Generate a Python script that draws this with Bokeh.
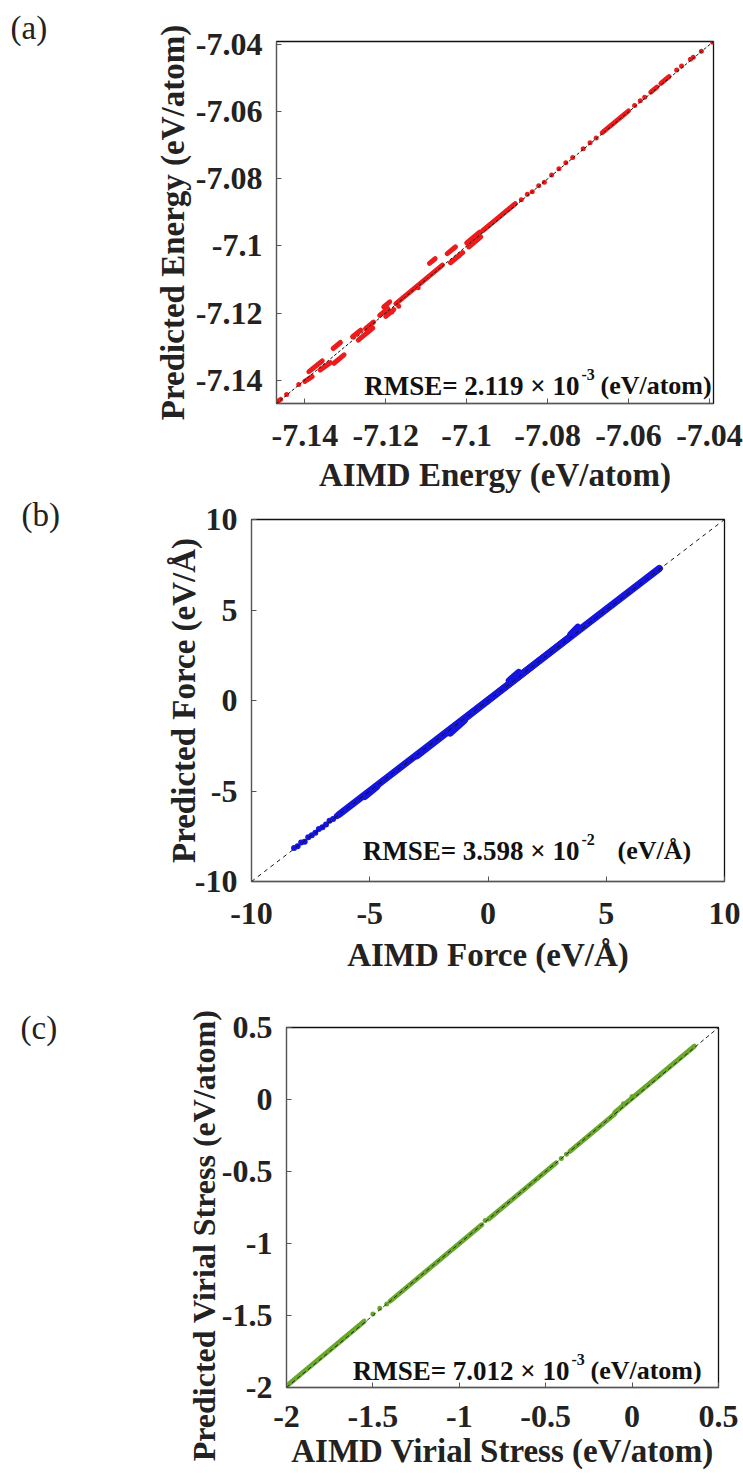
from bokeh.plotting import figure
from bokeh.models import FixedTicker, Label, Range1d
from bokeh.layouts import column, row
from bokeh.embed import file_html
from bokeh.resources import INLINE

# ---------------- Panel (a): energy ----------------
energy_range = [-7.147, -7.039]
energy_ticks = [-7.14, -7.12, -7.10, -7.08, -7.06, -7.04]
energy_tick_labels = ["-7.14", "-7.12", "-7.1", "-7.08", "-7.06", "-7.04"]
# dense runs of points (AIMD start/end, predicted start/end)
energy_run_aimd_start = [-7.1472, -7.1400, -7.1390, -7.1362, -7.1330, -7.1328, -7.1282, -7.1268,
                         -7.1250, -7.1205, -7.1215, -7.1200, -7.1175, -7.1092, -7.1048, -7.1040,
                         -7.1000, -7.0995, -7.0960, -7.0665, -7.0545, -7.0520]
energy_run_aimd_end = [-7.1460, -7.1382, -7.1357, -7.1337, -7.1312, -7.1303, -7.1262, -7.1232,
                       -7.1230, -7.1190, -7.1195, -7.1180, -7.1060, -7.1078, -7.1028, -7.1010,
                       -7.0968, -7.0965, -7.0880, -7.0600, -7.0530, -7.0500]
energy_run_pred_start = [-7.1468, -7.1404, -7.1375, -7.1370, -7.1306, -7.1350, -7.1271, -7.1281,
                         -7.1247, -7.1182, -7.1207, -7.1210, -7.1172, -7.1052, -7.1023, -7.1050,
                         -7.0991, -7.1003, -7.0954, -7.0662, -7.0541, -7.0515]
energy_run_pred_end = [-7.1458, -7.1390, -7.1343, -7.1348, -7.1288, -7.1325, -7.1251, -7.1245,
                       -7.1227, -7.1167, -7.1187, -7.1190, -7.1057, -7.1038, -7.1003, -7.1020,
                       -7.0959, -7.0973, -7.0874, -7.0597, -7.0526, -7.0495]
energy_dot_aimd = [-7.0865, -7.0850, -7.0838, -7.0822, -7.0808, -7.0790, -7.0772, -7.0755, -7.0738,
                   -7.0712, -7.0695, -7.0680, -7.0585, -7.0571, -7.0560, -7.0481, -7.0469, -7.0447,
                   -7.0440, -7.0420, -7.0392, -7.1445, -7.1415, -7.1185, -7.1168, -7.1120, -7.1020]
energy_dot_pred = [-7.0862, -7.0846, -7.0838, -7.0820, -7.0810, -7.0788, -7.0770, -7.0752, -7.0736,
                   -7.0710, -7.0692, -7.0678, -7.0581, -7.0567, -7.0556, -7.0475, -7.0463, -7.0443,
                   -7.0437, -7.0419, -7.0392, -7.1443, -7.1413, -7.1197, -7.1180, -7.1125, -7.1030]

# ---------------- Panel (b): force ----------------
force_range = [-10, 10]
force_ticks = [-10, -5, 0, 5, 10]
force_tick_labels = ["-10", "-5", "0", "5", "10"]
force_run_aimd_start = [-6.3, -1.6, 0.9, 3.5, -5.2, -3.0]
force_run_aimd_end = [7.25, -1.0, 1.3, 3.8, -4.7, 3.4]
force_run_pred_start = [-6.3, -1.8, 1.1, 3.65, -5.3, -3.05]
force_run_pred_end = [7.3, -1.1, 1.55, 4.05, -4.75, 3.45]
force_dot_aimd = [-8.2, -8.05, -7.9, -7.75, -7.6, -7.45, -7.3, -7.15, -7.0, -6.85, -6.7, -6.55, -6.4]
force_dot_pred = [-8.15, -8.05, -7.85, -7.8, -7.55, -7.45, -7.3, -7.1, -7.0, -6.85, -6.65, -6.55, -6.4]

# ---------------- Panel (c): virial stress ----------------
stress_range = [-2.0, 0.5]
stress_ticks = [-2.0, -1.5, -1.0, -0.5, 0.0, 0.5]
stress_tick_labels = ["-2", "-1.5", "-1", "-0.5", "0", "0.5"]
stress_run_aimd_start = [-1.99, -1.68, -1.40, -1.20, -0.83, -0.36, -0.10]
stress_run_aimd_end = [-1.68, -1.55, -1.20, -0.87, -0.44, -0.10, 0.36]
stress_run_pred_start = [-1.98, -1.67, -1.40, -1.20, -0.83, -0.36, -0.09]
stress_run_pred_end = [-1.67, -1.54, -1.20, -0.87, -0.44, -0.10, 0.37]
stress_dot_aimd = [-1.50, -1.46, -1.42, -0.85, -0.41, -0.38, -0.05, 0.0]
stress_dot_pred = [-1.49, -1.45, -1.42, -0.84, -0.41, -0.38, -0.03, 0.02]

panel_letters = ["(a)", "(b)", "(c)"]

FONT = "Liberation Serif"
INK = "#222222"
LETTER_W = 70
OVERLAP_C = 50


def make_panel(rng, ticks, tick_labels, xlabel, ylabel, fw, fh, left, right, top, bottom,
               xl_standoff, yl_standoff, xlab_standoff, ylab_standoff, ylab_size="33px"):
    p = figure(frame_width=fw, frame_height=fh,
               min_border_left=left, min_border_right=right,
               min_border_top=top, min_border_bottom=bottom,
               x_range=Range1d(rng[0], rng[1]), y_range=Range1d(rng[0], rng[1]),
               output_backend="svg", toolbar_location=None,
               background_fill_color="white", border_fill_color="white")
    p.xgrid.visible = False
    p.ygrid.visible = False
    p.outline_line_color = "#111111"
    p.outline_line_width = 1.3
    overrides = dict(zip(ticks, tick_labels))
    p.xaxis.axis_label = xlabel
    p.yaxis.axis_label = ylabel
    for ax in (p.xaxis[0], p.yaxis[0]):
        ax.ticker = FixedTicker(ticks=ticks)
        ax.major_label_overrides = overrides
        ax.major_label_text_font = FONT
        ax.major_label_text_font_style = "bold"
        ax.major_label_text_font_size = "32px"
        ax.major_label_text_color = INK
        ax.axis_label_text_font = FONT
        ax.axis_label_text_font_style = "bold"
        ax.axis_label_text_font_size = "33px"
        ax.axis_label_text_color = INK
        ax.major_tick_in = 5
        ax.major_tick_out = 0
        ax.minor_tick_line_color = None
        ax.axis_line_color = "#555555"
        ax.major_tick_line_color = "#555555"
    p.yaxis.axis_label_text_font_size = ylab_size
    p.xaxis.major_label_standoff = xl_standoff
    p.yaxis.major_label_standoff = yl_standoff
    p.xaxis.axis_label_standoff = xlab_standoff
    p.yaxis.axis_label_standoff = ylab_standoff
    return p


def add_rmse(p, part1, sup, part3, x1, base, x3):
    p.add_layout(Label(x=x1, y=base, x_units="canvas", y_units="canvas", text=part1,
                       text_font=FONT, text_font_style="bold", text_font_size="27px",
                       text_color="#111111", text_baseline="alphabetic", text_align="right"))
    p.add_layout(Label(x=x1 + 2, y=base - 11, x_units="canvas", y_units="canvas", text=sup,
                       text_font=FONT, text_font_style="bold", text_font_size="16px",
                       text_color="#111111", text_baseline="alphabetic", text_align="left"))
    p.add_layout(Label(x=x3, y=base, x_units="canvas", y_units="canvas", text=part3,
                       text_font=FONT, text_font_style="bold", text_font_size="26px",
                       text_color="#111111", text_baseline="alphabetic", text_align="left"))


# ---- (a)
pa = make_panel(energy_range, energy_ticks, energy_tick_labels,
                "AIMD Energy (eV/atom)", "Predicted Energy (eV/atom)",
                437, 362, 276 - LETTER_W, 30, 41, 94, 21, 14, 8, 2)
red = "#ec1c1c"
pa.segment(x0=energy_run_aimd_start, y0=energy_run_pred_start,
           x1=energy_run_aimd_end, y1=energy_run_pred_end,
           line_color=red, line_width=5, line_cap="round")
pa.scatter(energy_dot_aimd, energy_dot_pred, size=5, color=red, line_color=None)
pa.line(energy_range, energy_range, line_color="#111111", line_width=1, line_dash="3 2")
add_rmse(pa, "RMSE= 2.119 \u00d7 10", "-3", "(eV/atom)", 579 - LETTER_W, 385, 600 - LETTER_W)

# ---- (b)
pb = make_panel(force_range, force_ticks, force_tick_labels,
                "AIMD Force (eV/\u00c5)", "Predicted Force (eV/\u00c5)",
                473, 362, 251 - LETTER_W, 19, 22, 104, 21, 14, 10, -10)
blue = "#1515dd"
pb.segment(x0=force_run_aimd_start, y0=force_run_pred_start,
           x1=force_run_aimd_end, y1=force_run_pred_end,
           line_color=blue, line_width=7, line_cap="round")
pb.scatter(force_dot_aimd, force_dot_pred, size=6, color=blue, line_color=None)
pb.line(force_range, force_range, line_color="#111111", line_width=1, line_dash="4 4")
add_rmse(pb, "RMSE= 3.598 \u00d7 10", "-2", "(eV/\u00c5)", 579 - LETTER_W, 353, 617 - LETTER_W)

# ---- (c)  (its canvas starts OVERLAP_C px higher, over the transparent part of (b))
pc = make_panel(stress_range, stress_ticks, stress_tick_labels,
                "AIMD Virial Stress (eV/atom)",
                "Predicted Virial Stress (eV/atom)" + "\u00a0" * 7,
                432, 360, 286 - LETTER_W, 25, 42 + OVERLAP_C, 86, 18, 14, 3, -3, ylab_size="32px")
pc.border_fill_alpha = 0
green = "#6aa82c"
pc.segment(x0=stress_run_aimd_start, y0=stress_run_pred_start,
           x1=stress_run_aimd_end, y1=stress_run_pred_end,
           line_color=green, line_width=5, line_cap="round")
pc.scatter(stress_dot_aimd, stress_dot_pred, size=5, color=green, line_color=None)
pc.line(stress_range, stress_range, line_color="#222222", line_width=1, line_dash="4 3")
add_rmse(pc, "RMSE= 7.012 \u00d7 10", "-3", "(eV/atom)", 569 - LETTER_W, 385 + OVERLAP_C,
         590 - LETTER_W)

# ---- panel letters in a narrow strip on the left
letters = figure(frame_width=LETTER_W, frame_height=1473, min_border=0,
                 x_axis_type=None, y_axis_type=None, output_backend="svg",
                 toolbar_location=None, outline_line_color=None,
                 background_fill_color="white", border_fill_color="white")
for txt, lx, ly in zip(panel_letters, [10, 21, 20], [9, 496, 1009]):
    letters.add_layout(Label(x=lx, y=ly, x_units="canvas", y_units="canvas", text=txt,
                             text_font=FONT, text_font_size="33px", text_color=INK,
                             text_baseline="top", text_align="left"))

ra = row(pa)
rb = row(pb)
rc = row(pc)
rc.margin = (-OVERLAP_C, 0, 0, 0)
layout = row(letters, column(ra, rb, rc, spacing=0), spacing=0)
open("out.html", "w").write(file_html(layout, INLINE))
